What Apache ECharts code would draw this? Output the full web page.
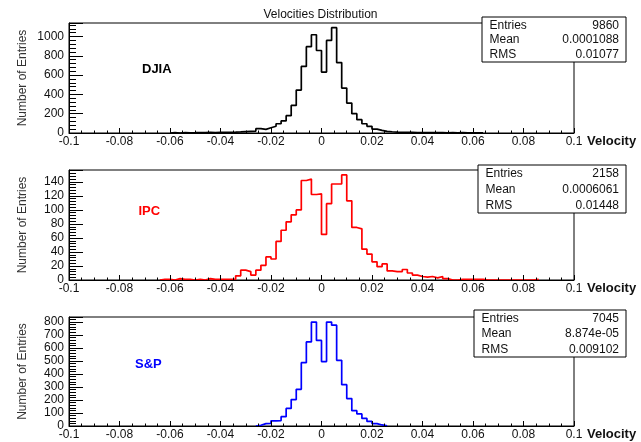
<!DOCTYPE html>
<html><head><meta charset="utf-8">
<script src="https://cdn.jsdelivr.net/npm/echarts@6/dist/echarts.min.js"></script>
<style>html,body{margin:0;padding:0;background:#fff}#c{width:641px;height:442px}</style>
</head><body><div id="c"></div>
<script>
// ---- data ----
const binWidth = 0.002;
const panelNames = ['DJIA', 'IPC', 'S&P'];
const statLabels = ['Entries', 'Mean', 'RMS'];
const djiaStats = ['9860', '0.0001088', '0.01077'];
const ipcStats = ['2158', '0.0006061', '0.01448'];
const spStats = ['7045', '8.874e-05', '0.009102'];

const djiaStart = -0.060;
const djiaCounts = [3,0,4,2,3,5,4,6,5,6,7,8,9,11,14,17,20,45,38,55,70,96,125,180,286,445,690,895,1018,855,
  631,959,1092,730,466,310,200,138,96,69,40,27,17,13,10,8,7,6,5,4,5,3,4,3,2,4,2,3,1,2,1,2];

const ipcStart = -0.064;
const ipcCounts = [1,1,0,2,1,1,0,1,0,2,1,1,1,1,1,6,14,12,7,14,21,33,30,55,71,83,93,100,142,144,122,123,
  65,109,137,137,150,113,75,73,44,37,26,19,23,13,12,12,15,10,7,5,4,5,3,5,2,0,0,1,1,1,1,1,0,0,0,0,0,0,0,0,0,0,1];

const spStart = -0.026;
const spCounts = [6,18,20,40,42,72,135,203,282,487,646,799,658,
  495,799,775,505,318,211,118,93,58,35,18,8,2];

const xMin = -0.1, xMax = 0.1, xInterval = 0.02;
const yMax = [1140, 157, 838];
const yInterval = [200, 20, 100];
const colors = ['#000000', '#ff0000', '#0000ff'];

// ---- layout ----
const FONT = '"Liberation Sans", Arial, Helvetica, sans-serif';
const grids = [
  {left: 69, top: 23, width: 505, height: 110},
  {left: 69, top: 170, width: 505, height: 110},
  {left: 69, top: 317, width: 505, height: 109}
];
const statBoxes = [
  {x: 482, y: 17, w: 144, h: 45},
  {x: 478, y: 165, w: 148, h: 48},
  {x: 474, y: 310, w: 152, h: 47}
];
const nameLabelPos = [[142, 69.5], [138.5, 211.5], [135, 364]];

function histPoints(start, counts) {
  const pts = [[start, 0]];
  for (let i = 0; i < counts.length; i++) {
    pts.push([+(start + i * binWidth).toFixed(4), counts[i]]);
  }
  pts.push([+(start + counts.length * binWidth).toFixed(4), 0]);
  return pts;
}
const fmt = v => String(parseFloat((+v).toFixed(4)));

const allCounts = [djiaCounts, ipcCounts, spCounts];
const allStarts = [djiaStart, ipcStart, spStart];
const allStats = [djiaStats, ipcStats, spStats];

const option = {
  animation: false,
  backgroundColor: '#fff',
  title: {
    text: 'Velocities Distribution', left: 'center', top: 4,
    textStyle: {fontSize: 12, fontWeight: 'normal', color: '#111', fontFamily: FONT}
  },
  grid: grids.map(g => Object.assign({show: true, borderColor: '#000', borderWidth: 1,
    backgroundColor: 'transparent', outerBoundsMode: 'none', containLabel: false}, g)),
  xAxis: grids.map((g, i) => ({
    gridIndex: i, type: 'value', min: xMin, max: xMax, interval: xInterval, z: 5,
    axisLine: {show: true, onZero: false, lineStyle: {color: '#000', width: 1}},
    axisTick: {show: true, inside: true, length: 5, lineStyle: {color: '#000'}},
    minorTick: {show: true, splitNumber: 4, length: 2.5, lineStyle: {color: '#000'}},
    splitLine: {show: false}, minorSplitLine: {show: false},
    axisLabel: {margin: 3, fontSize: 12, color: '#111', fontFamily: FONT, formatter: fmt,
      showMinLabel: true, showMaxLabel: true},
    name: 'Velocity', nameLocation: 'end', nameGap: 13, nameMoveOverlap: false,
    nameTextStyle: {fontWeight: 'bold', fontSize: 13, color: '#111', fontFamily: FONT,
      verticalAlign: 'top', padding: [2, 0, 0, 0]}
  })),
  yAxis: grids.map((g, i) => ({
    gridIndex: i, type: 'value', min: 0, max: yMax[i], interval: yInterval[i], z: 5,
    axisLine: {show: true, onZero: false, lineStyle: {color: '#000', width: 1}},
    axisTick: {show: true, inside: true, length: 14, lineStyle: {color: '#000'}},
    minorTick: {show: true, splitNumber: 5, length: 7, lineStyle: {color: '#000'}},
    splitLine: {show: false}, minorSplitLine: {show: false},
    axisLabel: {margin: 5, fontSize: 12, color: '#111', fontFamily: FONT, showMaxLabel: false, formatter: fmt},
    name: 'Number of Entries', nameLocation: 'middle', nameGap: 40, nameMoveOverlap: false,
    nameTextStyle: {fontSize: 12, color: '#333', fontFamily: FONT}
  })),
  series: allCounts.map((c, i) => ({
    type: 'line', xAxisIndex: i, yAxisIndex: i, step: 'end',
    data: histPoints(allStarts[i], c),
    showSymbol: false, symbol: 'none', silent: true, z: 2,
    lineStyle: {color: colors[i], width: 1.7},
    itemStyle: {color: colors[i]}
  })),
  graphic: []
};

statBoxes.forEach((b, i) => {
  option.graphic.push({
    type: 'rect', z: 100, shape: {x: b.x, y: b.y, width: b.w, height: b.h},
    style: {fill: '#fff', stroke: '#000', lineWidth: 1}
  });
  const offs = [0.19, 0.51, 0.84];
  statLabels.forEach((lab, r) => {
    option.graphic.push({
      type: 'text', z: 101, x: b.x + 7.5, y: b.y + b.h * offs[r],
      style: {text: lab, fill: '#111', font: '12px ' + FONT, textAlign: 'left', textVerticalAlign: 'middle', verticalAlign: 'middle'}
    });
    option.graphic.push({
      type: 'text', z: 101, x: b.x + b.w - 7, y: b.y + b.h * offs[r],
      style: {text: allStats[i][r], fill: '#111', font: '12px ' + FONT, textAlign: 'right', textVerticalAlign: 'middle', verticalAlign: 'middle'}
    });
  });
  option.graphic.push({
    type: 'text', z: 101, x: nameLabelPos[i][0], y: nameLabelPos[i][1],
    style: {text: panelNames[i], fill: colors[i], font: 'bold 13px ' + FONT, textAlign: 'left', textVerticalAlign: 'middle', verticalAlign: 'middle'}
  });
});

const chart = echarts.init(document.getElementById('c'), null, {renderer: 'canvas'});
chart.setOption(option);
</script>
</body></html>
